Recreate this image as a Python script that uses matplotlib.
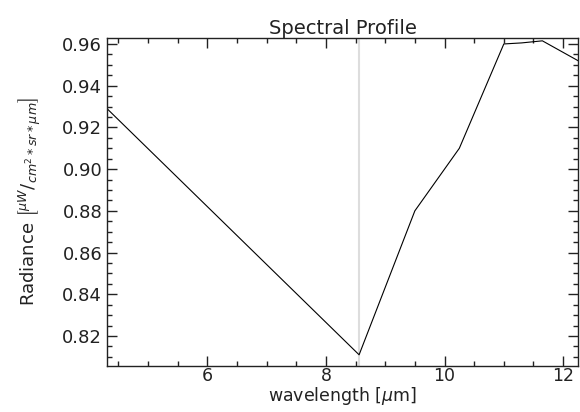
import matplotlib
matplotlib.use('Agg')
import matplotlib.pyplot as plt
from matplotlib.ticker import MultipleLocator

# spectral profile
wavelength = [4.31, 8.56, 9.5, 10.25, 11.0, 11.3, 11.65, 12.25]
radiance = [0.929, 0.811, 0.880, 0.910, 0.960, 0.9605, 0.9615, 0.952]
marker_wl = 8.55

plt.rcParams['font.family'] = 'DejaVu Sans'

fig = plt.figure(figsize=(5.8, 4.12), dpi=100)
ax = fig.add_axes([0.1845, 0.112, 0.812, 0.796])

ax.axvline(marker_wl, color='#dddddd', lw=1.5, zorder=1)
ax.plot(wavelength, radiance, color='black', lw=0.8, zorder=2)

ax.set_xlim(4.31, 12.25)
ax.set_ylim(0.8057, 0.9629)

ax.xaxis.set_major_locator(MultipleLocator(2))
ax.xaxis.set_minor_locator(MultipleLocator(0.5))
ax.yaxis.set_major_locator(MultipleLocator(0.02))
ax.yaxis.set_minor_locator(MultipleLocator(0.005))
ax.yaxis.set_major_formatter(matplotlib.ticker.FormatStrFormatter('%.2f'))

ax.tick_params(which='both', direction='in', top=True, right=True,
               labelsize=13, colors='#222222')
ax.tick_params(which='major', length=7, width=1)
ax.tick_params(which='minor', length=3.5, width=1)
ax.tick_params(axis='x', labelsize=12.5, pad=1)
for s in ax.spines.values():
    s.set_linewidth(1)
    s.set_color('#222222')

ax.set_title('Spectral Profile', fontsize=14, color='#222222', pad=3)
ax.set_xlabel(r'wavelength [$\mu$m]', fontsize=12.5, color='#222222', labelpad=0)
ax.set_ylabel(r'Radiance $\left[^{\mu W}/_{cm^2 * sr * \mu m}\right]$',
              fontsize=13, color='#222222', labelpad=14)

fig.savefig('out.png', dpi=100)
